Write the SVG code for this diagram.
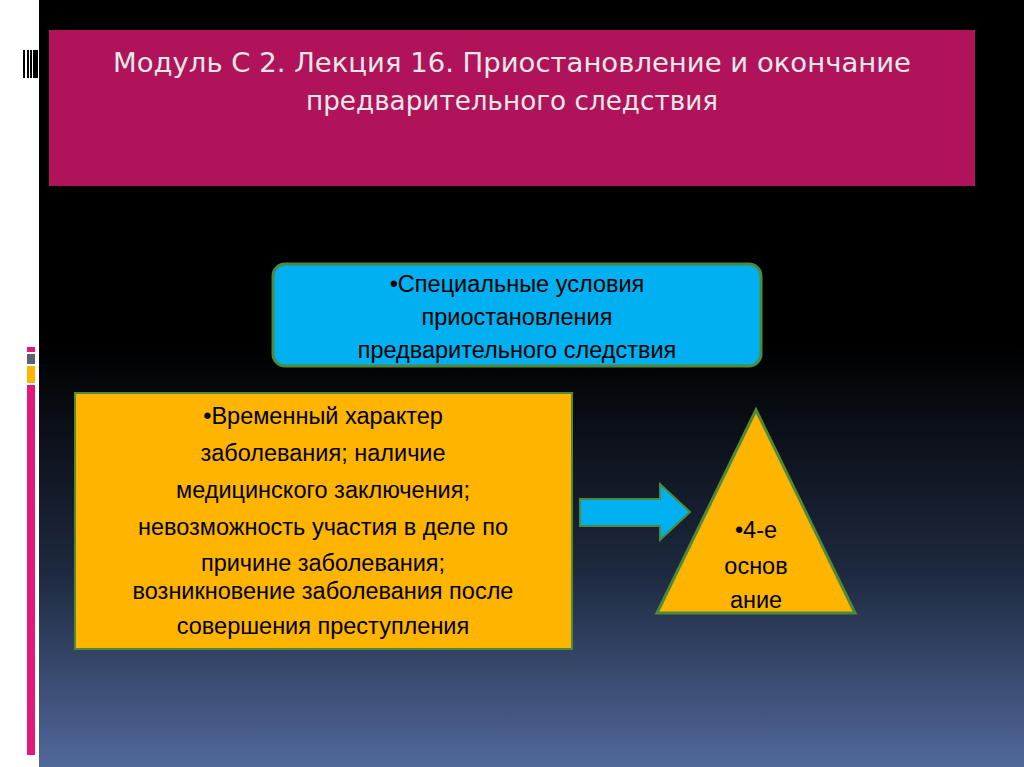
<svg xmlns="http://www.w3.org/2000/svg" width="1024" height="767" viewBox="0 0 1024 767">
<defs>
<linearGradient id="bg" x1="0" y1="0" x2="0" y2="1">
<stop offset="0" stop-color="#000"/><stop offset="0.45" stop-color="#000"/><stop offset="0.75" stop-color="#1e2a40"/><stop offset="1" stop-color="#51689a"/>
</linearGradient>
<style>
text{font-family:"Liberation Sans",Arial,sans-serif;fill:#000;text-anchor:middle}
.t{font-family:"DejaVu Sans Condensed","Liberation Sans",sans-serif;font-size:27px;fill:#e8e8e8}
.b{font-size:23.5px}
</style>
</defs>
<rect width="1024" height="767" fill="#fff"/>
<rect x="39" y="0" width="985" height="767" fill="url(#bg)"/>
<g fill="#000"><rect x="23" y="50" width="2" height="28"/><rect x="27" y="50" width="2" height="28"/><rect x="30" y="50" width="2" height="28"/><rect x="33" y="50" width="5" height="28"/></g>
<rect x="27" y="347" width="8" height="5" fill="#e0197a"/>
<rect x="27" y="354" width="8" height="10" fill="#5a6470"/>
<rect x="27" y="366" width="8" height="17" fill="#ffb400"/>
<rect x="27" y="385" width="8" height="370" fill="#e0197a"/>
<g id="title">
<rect x="49" y="30" width="926" height="156" fill="#b0135a"/>
<text class="t" x="512" y="72" textLength="798" lengthAdjust="spacingAndGlyphs">Модуль С 2. Лекция 16. Приостановление и окончание</text>
<text class="t" x="512" y="110" textLength="412" lengthAdjust="spacingAndGlyphs">предварительного следствия</text>
</g>
<g id="top">
<rect x="273" y="264" width="488" height="102" rx="12" fill="#00b0f0" stroke="#4f8a3a" stroke-width="3"/>
<text class="b" x="517" y="292">•Специальные условия</text>
<text class="b" x="517" y="325">приостановления</text>
<text class="b" x="517" y="358">предварительного следствия</text>
</g>
<g id="left">
<rect x="75" y="393" width="497" height="256" fill="#ffb400" stroke="#4f8a3a" stroke-width="2"/>
<text class="b" x="323" y="424">•Временный характер</text>
<text class="b" x="323" y="461">заболевания; наличие</text>
<text class="b" x="323" y="498">медицинского заключения;</text>
<text class="b" x="323" y="535">невозможность участия в деле по</text>
<text class="b" x="323" y="571">причине заболевания;</text>
<text class="b" x="323" y="599">возникновение заболевания после</text>
<text class="b" x="323" y="634">совершения преступления</text>
</g>
<g id="connectors">
<polygon points="580,499 660,499 660,484 690,512 660,540 660,526 580,526" fill="#00b0f0" stroke="#4f8a3a" stroke-width="2"/>
</g>
<g id="tri">
<polygon points="756,410 855,613 657,613" fill="#ffb400" stroke="#4f8a3a" stroke-width="3"/>
<text class="b" x="756" y="538">•4-е</text>
<text class="b" x="756" y="574">основ</text>
<text class="b" x="756" y="608">ание</text>
</g>
</svg>
